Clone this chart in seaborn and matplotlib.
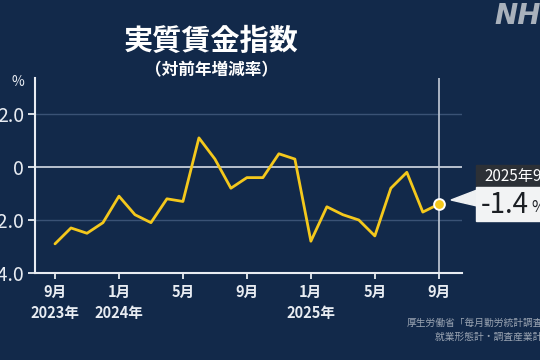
import numpy as np
import pandas as pd
import matplotlib as mpl
mpl.use('Agg')
import matplotlib.pyplot as plt
from matplotlib.patches import Polygon, Rectangle
import seaborn as sns

# ------------------------------------------------------------------
# Data (real wage index, y/y %, Sep 2023 - Sep 2025)
# ------------------------------------------------------------------
months = ['2023-09', '2023-10', '2023-11', '2023-12',
          '2024-01', '2024-02', '2024-03', '2024-04', '2024-05', '2024-06',
          '2024-07', '2024-08', '2024-09', '2024-10', '2024-11', '2024-12',
          '2025-01', '2025-02', '2025-03', '2025-04', '2025-05', '2025-06',
          '2025-07', '2025-08', '2025-09']
values = [-2.9, -2.3, -2.5, -2.1,
          -1.1, -1.8, -2.1, -1.2, -1.3, 1.1,
          0.3, -0.8, -0.4, -0.4, 0.5, 0.3,
          -2.8, -1.5, -1.8, -2.0, -2.6, -0.8,
          -0.2, -1.7, -1.4]
tick_idx = [0, 4, 8, 12, 16, 20, 24]
tick_labels = ['9月\n2023年', '1月\n2024年', '5月', '9月',
               '1月\n2025年', '5月', '9月']
ytick_vals = [2.0, 0, -2.0, -4.0]
ytick_labels = ['2.0', '0', '-2.0', '-4.0']
callout_date = '2025年9月'
callout_value = '-1.4'
callout_unit = '%'

# ------------------------------------------------------------------
# Style
# ------------------------------------------------------------------
bg = '#12294a'
fg = '#e8ecf2'
yellow = '#f4c81c'
sns.set_theme(style='white')
plt.rcParams['font.family'] = ['Noto Sans CJK JP', 'DejaVu Sans']

df = pd.DataFrame({'month': months, 'value': values})
df['i'] = np.arange(len(df))

W, H = 540, 360
fig = plt.figure(figsize=(5.4, 3.6), dpi=100, facecolor=bg)
ax = fig.add_axes([35 / W, 1 - 273 / H, (462 - 35) / W, (273 - 78) / H])
ax.set_facecolor(bg)

# grid / reference lines
for yv in [2.0, -2.0]:
    ax.axhline(yv, color='#3a5275', lw=1.0, zorder=1)
ax.axhline(0, color='#b9c2cf', lw=1.4, zorder=1)
ax.axvline(24, color='#c4ccd8', lw=1.2, zorder=1)

sns.lineplot(data=df, x='i', y='value', ax=ax, color=yellow, lw=2.0,
             zorder=3)
last = df.iloc[-1]
ax.scatter([last['i']], [last['value']], s=60, color=yellow,
           edgecolor='white', linewidth=1.4, zorder=4)

ax.set_xlim(-1.25, 25.45)
ax.set_ylim(-4.0, 3.36)
ax.set_xticks(tick_idx)
ax.set_xticklabels(tick_labels, color=fg, fontsize=10.5, linespacing=1.35,
                   fontweight='bold')
ax.set_yticks(ytick_vals)
ax.set_yticklabels(ytick_labels, color=fg, fontsize=14)
ax.tick_params(axis='x', length=4, width=1.3, color=fg, pad=4,
               direction='out', bottom=True)
ax.tick_params(axis='y', length=5, width=1.3, color=fg, pad=3,
               direction='out', left=True)
ax.set_xlabel('')
ax.set_ylabel('')
for s in ['top', 'right']:
    ax.spines[s].set_visible(False)
for s in ['left', 'bottom']:
    ax.spines[s].set_color(fg)
    ax.spines[s].set_linewidth(1.5)

# titles
fig.text(211 / W, 1 - 41 / H, '実質賃金指数', color='white',
         fontsize=21, fontweight='bold', ha='center', va='center')
fig.text(211 / W, 1 - 70 / H, '（対前年増減率）', color='white',
         fontsize=12, fontweight='bold', ha='center', va='center')
fig.text(18 / W, 1 - 82 / H, '%', color=fg, fontsize=10,
         ha='center', va='center')
fig.text(494 / W, 1 - 16 / H, 'NHK', color='#a9b1bc', fontsize=20,
         fontweight='heavy', style='italic', ha='left', va='center',
         family='DejaVu Sans')

# source
fig.text(407 / W, 1 - 323 / H, '厚生労働省「毎月勤労統計調査」より',
         color='#9aa4b2', fontsize=7, ha='left', va='center')
fig.text(435 / W, 1 - 337 / H, '就業形態計・調査産業計　５人以上',
         color='#9aa4b2', fontsize=7, ha='left', va='center')

# callout
fig.patches.append(Polygon([(451 / W, 1 - 200 / H), (477 / W, 1 - 190 / H),
                            (477 / W, 1 - 206 / H)], closed=True,
                           transform=fig.transFigure, color='#eef0f2',
                           zorder=2))
fig.patches.append(Rectangle((476 / W, 1 - 187 / H), 80 / W, 22 / H,
                             transform=fig.transFigure, color='#2c3036',
                             zorder=3))
fig.patches.append(Rectangle((476 / W, 1 - 221 / H), 80 / W, 34 / H,
                             transform=fig.transFigure, color='#f2f3f4',
                             zorder=3))
fig.text(484 / W, 1 - 176 / H, callout_date, color='white', fontsize=11,
         ha='left', va='center', zorder=4)
fig.text(481 / W, 1 - 205 / H, callout_value, color='#1c1f24', fontsize=20,
         ha='left', va='center', zorder=4)
fig.text(531 / W, 1 - 208 / H, callout_unit, color='#1c1f24', fontsize=11,
         ha='left', va='center', zorder=4)

plt.savefig('out.png', dpi=100, facecolor=bg)
